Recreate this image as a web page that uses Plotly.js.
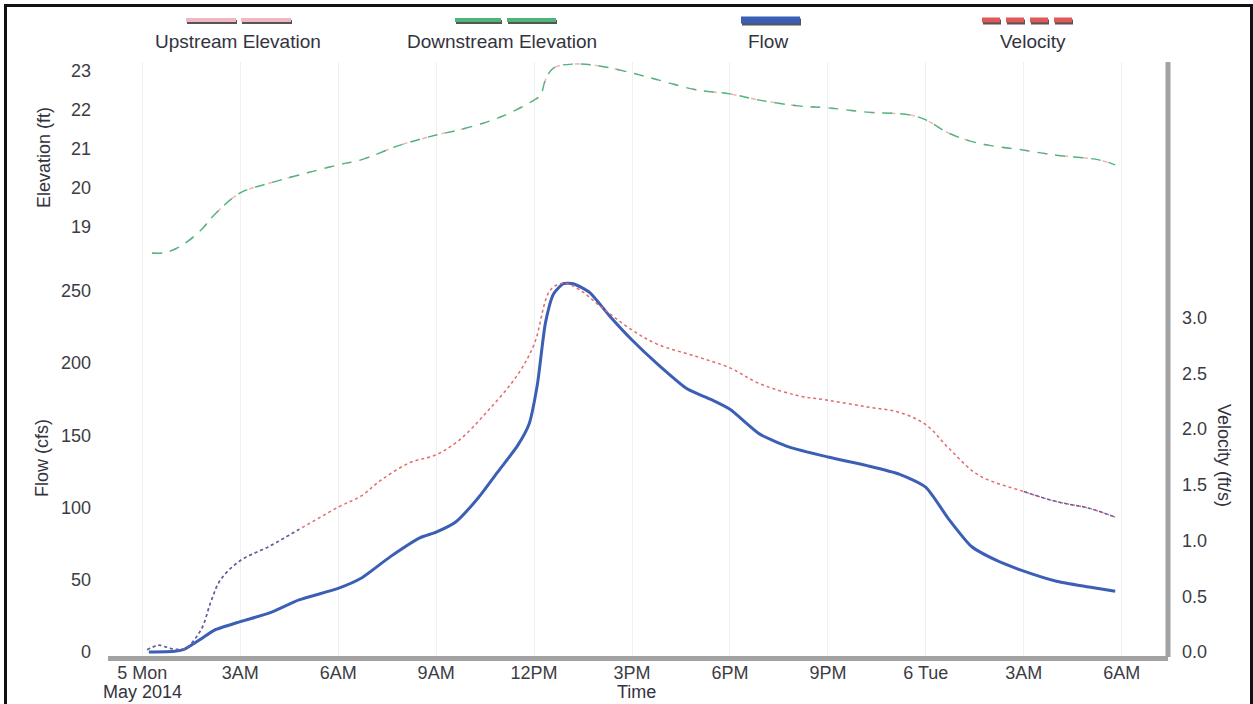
<!DOCTYPE html>
<html><head><meta charset="utf-8">
<script src="https://cdn.plot.ly/plotly-3.0.1.min.js"></script>
<style>
html,body{margin:0;padding:0;background:#fff;overflow:hidden}
#chart{position:absolute;left:0;top:0;width:1253px;height:704px}
#frame{position:absolute;left:4px;top:4px;width:1243px;height:720px;border:3px solid #111;border-bottom:none;pointer-events:none}
</style></head><body>
<div id="chart"></div><div id="frame"></div>
<script>
// ---------- data ----------
const seriesNames = ["Upstream Elevation", "Downstream Elevation", "Flow", "Velocity"];

const elevTime = ["2014-05-05 00:18","2014-05-05 00:42","2014-05-05 01:12","2014-05-05 01:48","2014-05-05 02:12","2014-05-05 03:00","2014-05-05 03:54","2014-05-05 04:48","2014-05-05 06:00","2014-05-05 06:42","2014-05-05 07:54","2014-05-05 09:00","2014-05-05 09:42","2014-05-05 10:54","2014-05-05 12:00","2014-05-05 12:12","2014-05-05 12:21","2014-05-05 12:36","2014-05-05 13:12","2014-05-05 14:00","2014-05-05 15:00","2014-05-05 15:48","2014-05-05 17:00","2014-05-05 18:00","2014-05-05 18:54","2014-05-05 20:06","2014-05-05 21:00","2014-05-05 22:12","2014-05-05 23:30","2014-05-06 00:00","2014-05-06 00:42","2014-05-06 01:36","2014-05-06 03:00","2014-05-06 04:00","2014-05-06 05:18","2014-05-06 05:48"];
const downstreamElev = [18.31,18.32,18.5,18.9,19.29,19.86,20.11,20.32,20.58,20.71,21.09,21.35,21.48,21.79,22.25,22.38,22.77,23.08,23.18,23.13,22.95,22.77,22.51,22.41,22.25,22.1,22.05,21.94,21.87,21.74,21.4,21.14,20.96,20.83,20.71,20.58];
const upstreamElev   = [18.31,18.32,18.5,18.9,19.29,19.86,20.11,20.32,20.58,20.71,21.09,21.35,21.48,21.79,22.25,22.38,22.77,23.08,23.18,23.13,22.95,22.77,22.51,22.41,22.25,22.1,22.05,21.94,21.87,21.74,21.4,21.14,20.96,20.83,20.71,20.58];

const flowTime = ["2014-05-05 00:12","2014-05-05 01:00","2014-05-05 01:18","2014-05-05 01:48","2014-05-05 02:12","2014-05-05 03:00","2014-05-05 03:54","2014-05-05 04:48","2014-05-05 06:00","2014-05-05 06:42","2014-05-05 07:36","2014-05-05 08:30","2014-05-05 09:00","2014-05-05 09:36","2014-05-05 10:18","2014-05-05 10:54","2014-05-05 11:30","2014-05-05 11:51","2014-05-05 12:06","2014-05-05 12:21","2014-05-05 12:36","2014-05-05 12:54","2014-05-05 13:12","2014-05-05 13:42","2014-05-05 14:18","2014-05-05 15:00","2014-05-05 15:48","2014-05-05 16:42","2014-05-05 17:24","2014-05-05 18:00","2014-05-05 18:54","2014-05-05 19:48","2014-05-05 21:00","2014-05-05 22:12","2014-05-05 23:12","2014-05-06 00:00","2014-05-06 00:42","2014-05-06 01:24","2014-05-06 02:12","2014-05-06 03:00","2014-05-06 04:00","2014-05-06 05:00","2014-05-06 05:48"];
const flowCfs = [0,0.5,2,9,15,21,27,36,44,51,66,79,83,90,107,125,143,158,185,228,248,255,255,249,233,216,199,182,175,168,151,142,135,129,123,114,92,73,63,56,49,45,42];

const velTime = ["2014-05-05 00:09","2014-05-05 00:30","2014-05-05 00:54","2014-05-05 01:18","2014-05-05 01:48","2014-05-05 02:06","2014-05-05 02:24","2014-05-05 03:00","2014-05-05 03:54","2014-05-05 04:48","2014-05-05 06:00","2014-05-05 06:42","2014-05-05 07:18","2014-05-05 08:12","2014-05-05 09:00","2014-05-05 09:42","2014-05-05 10:36","2014-05-05 11:30","2014-05-05 12:00","2014-05-05 12:30","2014-05-05 12:54","2014-05-05 13:24","2014-05-05 14:00","2014-05-05 15:00","2014-05-05 15:48","2014-05-05 17:00","2014-05-05 18:00","2014-05-05 18:54","2014-05-05 20:06","2014-05-05 21:00","2014-05-05 22:12","2014-05-05 23:12","2014-05-06 00:00","2014-05-06 00:42","2014-05-06 01:36","2014-05-06 03:00","2014-05-06 04:00","2014-05-06 05:00","2014-05-06 05:48"];
const velocityFps = [0.02,0.06,0.03,0.03,0.2,0.45,0.65,0.82,0.95,1.1,1.3,1.4,1.54,1.7,1.77,1.9,2.17,2.49,2.76,3.25,3.31,3.25,3.11,2.89,2.76,2.65,2.55,2.41,2.3,2.26,2.2,2.15,2.04,1.83,1.59,1.44,1.35,1.29,1.21];

const tickTimes = ["2014-05-05 00:00","2014-05-05 03:00","2014-05-05 06:00","2014-05-05 09:00","2014-05-05 12:00","2014-05-05 15:00","2014-05-05 18:00","2014-05-05 21:00","2014-05-06 00:00","2014-05-06 03:00","2014-05-06 06:00"];
const tickLabels = ["5 Mon","3AM","6AM","9AM","12PM","3PM","6PM","9PM","6 Tue","3AM","6AM"];
const dateSubLabel = "May 2014";
const flowTicks = [0,50,100,150,200,250];
const velTicks = [0,0.5,1,1.5,2,2.5,3];
const elevTicks = [19,20,21,22,23];

// ---------- styling ----------
const C = {up:'#f2b6c0', down:'#4fb37a', flow:'#3c5fb6', vel:'#e36a6a', velBlue:'#4a66b8', text:'#333340', tick:'#3c3c44', grid:'#f0f0f0', bar:'#a2a2a2'};
const FONT = 'Liberation Sans, Arial, Helvetica, sans-serif';
const L = 108, R = 85, T = 62, B = 48, W = 1253, H = 704;
const px = X => (X - L) / (W - L - R);
const py = Y => (H - B - Y) / (H - T - B);
const split = py(275);

const blueMask = velTime.map(t => t <= "2014-05-05 04:48" || t >= "2014-05-06 03:00");
const velBlueA = {x: velTime.filter((t,i)=>blueMask[i] && t < "2014-05-06"), y: velocityFps.filter((v,i)=>blueMask[i] && velTime[i] < "2014-05-06")};
const velBlueB = {x: velTime.filter((t,i)=>blueMask[i] && t >= "2014-05-06"), y: velocityFps.filter((v,i)=>blueMask[i] && velTime[i] >= "2014-05-06")};

const traces = [
  {x: elevTime, y: upstreamElev, xaxis:'x', yaxis:'y3', mode:'lines', name: seriesNames[0], line:{color:C.up, width:1.6, dash:'5px,15px', shape:'spline'}},
  {x: elevTime, y: downstreamElev, xaxis:'x', yaxis:'y3', mode:'lines', name: seriesNames[1], line:{color:C.down, width:1.4, dash:'10px,8px', shape:'spline'}},
  {x: velTime, y: velocityFps, xaxis:'x', yaxis:'y2', mode:'lines', name: seriesNames[3], line:{color:C.vel, width:1.5, dash:'dot', shape:'spline'}},
  {x: velBlueA.x, y: velBlueA.y, xaxis:'x', yaxis:'y2', mode:'lines', showlegend:false, line:{color:C.velBlue, width:1.5, dash:'dot', shape:'spline'}},
  {x: velBlueB.x, y: velBlueB.y, xaxis:'x', yaxis:'y2', mode:'lines', showlegend:false, line:{color:C.velBlue, width:1.5, dash:'dot', shape:'spline'}},
  {x: flowTime, y: flowCfs, xaxis:'x', yaxis:'y', mode:'lines', name: seriesNames[2], line:{color:C.flow, width:3, shape:'spline', smoothing:0.6}}
];

// legend drawn as symbol-above-text items
const legendItems = [
  {name: seriesNames[0], cx: 238, color: C.up, w: 4, segs: [[186,236],[241,291]]},
  {name: seriesNames[1], cx: 502, color: C.down, w: 4, segs: [[455,501],[507,556]]},
  {name: seriesNames[2], cx: 768, color: C.flow, w: 7, segs: [[741,800]]},
  {name: seriesNames[3], cx: 1033, color: '#e05858', w: 5, segs: [[982,1000],[1006,1024],[1030,1048],[1054,1072]]}
];
const shapes = [];
const annotations = [];
legendItems.forEach(it => {
  it.segs.forEach(s => {
    shapes.push({type:'line', xref:'paper', yref:'paper', x0:px(s[0]+1), x1:px(s[1]+1), y0:py(22), y1:py(22), line:{color:'#555', width:it.w}});
    shapes.push({type:'line', xref:'paper', yref:'paper', x0:px(s[0]), x1:px(s[1]), y0:py(20), y1:py(20), line:{color:it.color, width:it.w}});
  });
  annotations.push({xref:'paper', yref:'paper', x:px(it.cx), y:py(42), text:it.name, showarrow:false, xanchor:'center', yanchor:'middle', font:{family:FONT, size:19, color:C.text}});
});
// right thick axis bar spanning both panels
shapes.push({type:'line', xref:'paper', yref:'paper', x0:1, x1:1, y0:py(657), y1:py(62), line:{color:C.bar, width:5}});

annotations.push({xref:'paper', yref:'paper', x:px(44), y:py(158), text:'Elevation (ft)', textangle:-90, showarrow:false, xanchor:'center', yanchor:'middle', font:{family:FONT, size:18, color:C.text}});
annotations.push({xref:'paper', yref:'paper', x:px(42), y:py(458), text:'Flow (cfs)', textangle:-90, showarrow:false, xanchor:'center', yanchor:'middle', font:{family:FONT, size:18, color:C.text}});
annotations.push({xref:'paper', yref:'paper', x:px(1224), y:py(455), text:'Velocity (ft/s)', textangle:90, showarrow:false, xanchor:'center', yanchor:'middle', font:{family:FONT, size:18, color:C.text}});
annotations.push({xref:'paper', yref:'paper', x:px(636), y:py(692), text:'Time', showarrow:false, xanchor:'center', yanchor:'middle', font:{family:FONT, size:18, color:C.text}});
annotations.push({xref:'x', yref:'paper', x:tickTimes[0], y:py(692), text:dateSubLabel, showarrow:false, xanchor:'center', yanchor:'middle', font:{family:FONT, size:18, color:C.text}});

const tickFont = {family:FONT, size:18, color:C.tick};
const layout = {
  width: W, height: H,
  margin: {l:L, r:R, t:T, b:B, pad:0},
  paper_bgcolor:'#fff', plot_bgcolor:'#fff',
  showlegend:false,
  xaxis: {type:'date', range:['2014-05-04 22:57','2014-05-06 07:25'], tickvals: tickTimes, ticktext: tickLabels, tickfont: tickFont,
          showgrid:true, gridcolor:C.grid, gridwidth:1, zeroline:false, showline:true, linecolor:C.bar, linewidth:5, ticks:'', anchor:'y', ticklabelstandoff:-4},
  yaxis: {domain:[0, split], range:[-2.8, 261], tickvals: flowTicks, tickfont: tickFont, showgrid:false, zeroline:false, showline:false, ticks:'', ticklabelstandoff:16, anchor:'x'},
  yaxis2: {overlaying:'y', side:'right', range:[-0.036, 3.384], tickvals: velTicks, tickformat:'.1f', tickfont: tickFont, showgrid:false, zeroline:false, showline:false, ticks:'', ticklabelstandoff:13, anchor:'x'},
  yaxis3: {domain:[split, 1], range:[17.742, 23.232], tickvals: elevTicks, tickfont: tickFont, showgrid:false, zeroline:false, showline:false, ticks:'', ticklabelstandoff:16, anchor:'x'},
  shapes: shapes,
  annotations: annotations
};

Plotly.newPlot('chart', traces, layout, {displayModeBar:false, staticPlot:true});
</script>
</body></html>
